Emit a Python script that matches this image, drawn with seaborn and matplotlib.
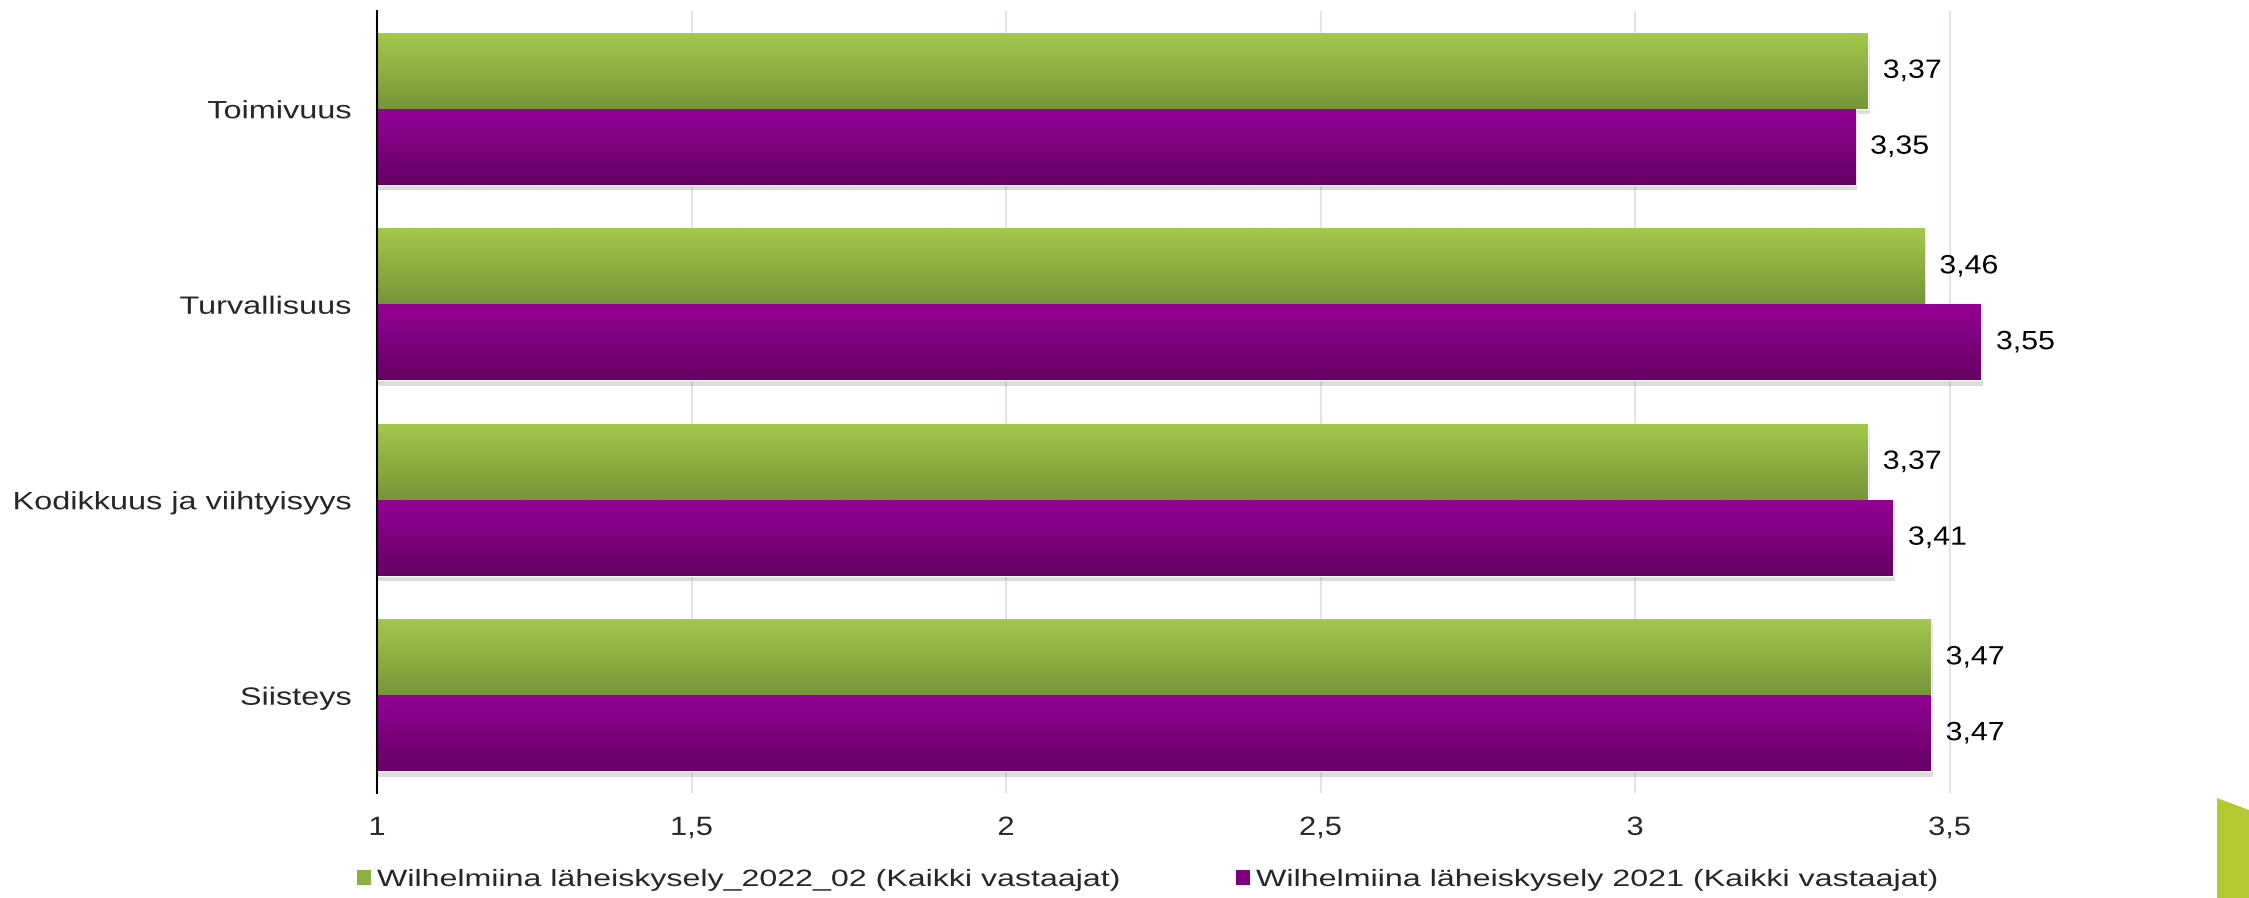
import numpy as np
import pandas as pd
import seaborn as sns
import matplotlib.pyplot as plt
from matplotlib.patches import Patch, Polygon
from matplotlib import patheffects as pe
from matplotlib.transforms import Affine2D
from matplotlib.colors import to_rgb

# ----- data -----
categories = ['Toimivuus', 'Turvallisuus', 'Kodikkuus ja viihtyisyys', 'Siisteys']
series = ['Wilhelmiina läheiskysely_2022_02 (Kaikki vastaajat)',
          'Wilhelmiina läheiskysely 2021 (Kaikki vastaajat)']
values_2022 = [3.37, 3.46, 3.37, 3.47]
values_2021 = [3.35, 3.55, 3.41, 3.47]
xticks = [1, 1.5, 2, 2.5, 3, 3.5]
xtick_labels = ['1', '1,5', '2', '2,5', '3', '3,5']

green_top, green_bot = '#A2C84C', '#76963A'
purple_top, purple_bot = '#930093', '#650065'


class Stretch(pe.AbstractPathEffect):
    """widen text horizontally (the reference uses wide letter spacing)"""
    def __init__(self, sx, anchor='left'):
        super().__init__()
        self.sx = sx
        self.anchor = anchor

    def draw_path(self, renderer, gc, tpath, affine, rgbFace=None):
        ext = tpath.get_extents()
        cx = {'left': 0.0, 'right': ext.x1, 'center': (ext.x0 + ext.x1) / 2}[self.anchor]
        tr = Affine2D().translate(-cx, 0).scale(self.sx, 1).translate(cx, 0) + affine
        renderer.draw_path(gc, tpath, tr, rgbFace)


df = pd.DataFrame({
    'kategoria': categories * 2,
    'sarja': [series[0]] * 4 + [series[1]] * 4,
    'arvo': values_2022 + values_2021,
})

sns.set_style('white')
plt.rcParams['font.family'] = ['Liberation Sans', 'DejaVu Sans']

W, H = 2249, 898
fig = plt.figure(figsize=(W / 100, H / 100), dpi=100)
ax = fig.add_axes([377 / W, 1 - 793 / H, 1 - 377 / W, (793 - 11) / H])

sns.barplot(data=df, x='arvo', y='kategoria', hue='sarja', orient='h',
            palette=['#8CB043', '#7C007C'], width=0.776, ax=ax, legend=False,
            zorder=2)

xmax = 1 + (W - 377) / 629

# gradient fill + soft shadow on each bar
grads = [(green_top, green_bot), (purple_top, purple_bot)]
for cont, (ctop, cbot) in zip(ax.containers, grads):
    t = np.linspace(0, 1, 64)[:, None]
    img = (1 - t) * np.array(to_rgb(ctop)) + t * np.array(to_rgb(cbot))
    img = img[:, None, :]
    for p in cont.patches:
        p.set_path_effects([pe.SimplePatchShadow(offset=(1.5, -4), shadow_rgbFace='#777777', alpha=0.25),
                            pe.Normal()])
        y0 = p.get_y()
        x1, y1 = p.get_x() + p.get_width(), p.get_y() + p.get_height()
        im = ax.imshow(img, extent=(1, x1, y1, y0), origin='upper', aspect='auto', zorder=3)
        im.set_clip_path(p)

ax.set_xlim(1, xmax)
ax.set_ylim(3.5, -0.5)

value_texts = []
for cont, vals in zip(ax.containers, [values_2022, values_2021]):
    value_texts += ax.bar_label(cont, labels=[f'{v:.2f}'.replace('.', ',') for v in vals],
                                padding=10.8, fontsize=19, color='black', zorder=5)

ax.set_xticks(xticks)
ax.set_xticklabels(xtick_labels)
ax.set_xlabel('')
ax.set_ylabel('')
ax.tick_params(axis='x', length=0, pad=16.5, labelsize=19)
ax.tick_params(axis='y', length=0, pad=18.5, labelsize=18)

ax.grid(False)
for xv in xticks[1:]:
    ax.axvline(xv, color='#D6DFEC', lw=1.2, zorder=0)
for s in ['top', 'right', 'bottom']:
    ax.spines[s].set_visible(False)
ax.spines['left'].set_color('black')
ax.spines['left'].set_linewidth(1.5)
ax.spines['left'].set_zorder(6)

# measure text widths and widen them to the reference widths
fig.canvas.draw()
rend = fig.canvas.get_renderer()
ylabs = ax.get_yticklabels()
s_y = 339 / ylabs[2].get_window_extent(rend).width
for lab in ylabs:
    lab.set_path_effects([Stretch(s_y, 'right')])
xlabs = ax.get_xticklabels()
s_x = 43 / xlabs[3].get_window_extent(rend).width
for lab in xlabs:
    lab.set_path_effects([Stretch(s_x, 'center')])
s_v = 59 / value_texts[0].get_window_extent(rend).width
for txt in value_texts:
    txt.set_path_effects([Stretch(s_v, 'left')])

leg_fs = 17
fs_px = leg_fs * 100 / 72
widths = []
for name in series:
    probe = fig.text(0, 0, name, fontsize=leg_fs)
    widths.append(probe.get_window_extent(rend).width)
    probe.remove()
leg_targets = [746, 685]
colspace = (1236 - 377 - widths[0]) / fs_px

handles = [Patch(facecolor='#8CB043', edgecolor='none'),
           Patch(facecolor='#7C007C', edgecolor='none')]
leg = fig.legend(handles, series, loc='center left', bbox_to_anchor=(357 / W, 1 - 880 / H),
                 ncol=2, frameon=False, fontsize=leg_fs, handlelength=14 / fs_px,
                 handleheight=14 / fs_px, handletextpad=6 / fs_px, columnspacing=colspace,
                 borderpad=0, borderaxespad=0)
for txt, w0, wt in zip(leg.get_texts(), widths, leg_targets):
    txt.set_path_effects([Stretch(wt / w0, 'left')])

# decorative corner shape
pts = [(2217, 798), (2249, 810), (2249, 898), (2217, 898)]
fig.patches.append(Polygon([(x / W, 1 - y / H) for x, y in pts], closed=True,
                           facecolor='#B5C832', edgecolor='none',
                           transform=fig.transFigure, figure=fig))

fig.savefig('out.png', dpi=100)
